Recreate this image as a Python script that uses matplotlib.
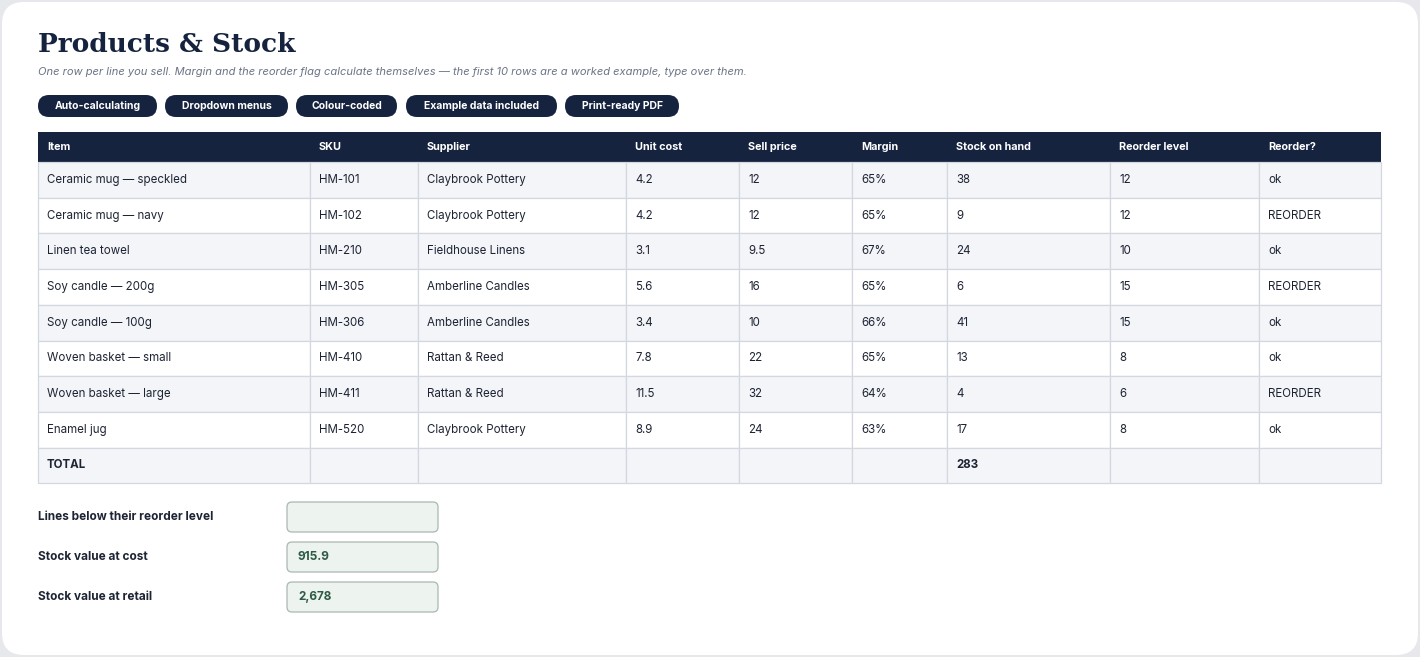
import matplotlib
matplotlib.use("Agg")
import matplotlib.pyplot as plt
from matplotlib.patches import FancyBboxPatch, Rectangle

items = ["Ceramic mug — speckled", "Ceramic mug — navy", "Linen tea towel", "Soy candle — 200g",
         "Soy candle — 100g", "Woven basket — small", "Woven basket — large", "Enamel jug"]
skus = ["HM-101", "HM-102", "HM-210", "HM-305", "HM-306", "HM-410", "HM-411", "HM-520"]
suppliers = ["Claybrook Pottery", "Claybrook Pottery", "Fieldhouse Linens", "Amberline Candles",
             "Amberline Candles", "Rattan & Reed", "Rattan & Reed", "Claybrook Pottery"]
unit_cost = [4.2, 4.2, 3.1, 5.6, 3.4, 7.8, 11.5, 8.9]
sell_price = [12, 12, 9.5, 16, 10, 22, 32, 24]
margin = ["65%", "65%", "67%", "65%", "66%", "65%", "64%", "63%"]
stock = [38, 9, 24, 6, 41, 13, 4, 17]
reorder_level = [12, 12, 10, 15, 15, 8, 6, 8]
reorder_flag = ["ok", "REORDER", "ok", "REORDER", "ok", "ok", "REORDER", "ok"]
headers = ["Item", "SKU", "Supplier", "Unit cost", "Sell price", "Margin", "Stock on hand", "Reorder level", "Reorder?"]
total_stock = 283
pills = ["Auto-calculating", "Dropdown menus", "Colour-coded", "Example data included", "Print-ready PDF"]
summary_labels = ["Lines below their reorder level", "Stock value at cost", "Stock value at retail"]
summary_values = ["", "915.9", "2,678"]

NAVY = "#15233f"
GRID = "#d3d8e0"
FONT = "Inter"

fig = plt.figure(figsize=(14.2, 6.57), dpi=100)
fig.patch.set_facecolor("#e6e8ec")
ax = fig.add_axes([0, 0, 1, 1])
ax.set_xlim(0, 1420); ax.set_ylim(657, 0); ax.axis("off")
ax.add_patch(FancyBboxPatch((2, 2), 1416, 653, boxstyle="round,pad=0,rounding_size=22",
                            fc="white", ec="none"))

ax.text(38, 44, "Products & Stock", fontsize=19, fontweight="bold", family="DejaVu Serif",
        color=NAVY, va="center")
ax.text(38, 72, "One row per line you sell. Margin and the reorder flag calculate themselves — the first 10 rows are a worked example, type over them.",
        fontsize=8, style="italic", color="#6b7385", va="center", family=FONT)

pill_x = [38, 165, 296, 406, 565]
pill_w = [119, 123, 101, 151, 114]
for px, pw, t in zip(pill_x, pill_w, pills):
    ax.add_patch(FancyBboxPatch((px, 95), pw, 22, boxstyle="round,pad=0,rounding_size=11",
                                fc=NAVY, ec="none"))
    ax.text(px + pw / 2, 106, t, fontsize=7.5, fontweight="bold", color="white",
            ha="center", va="center", family=FONT)

cols = [38, 310, 418, 626, 739, 852, 947, 1110, 1259, 1381]
top, hh, rh = 132, 30, 35.7
ax.add_patch(Rectangle((cols[0], top), cols[-1] - cols[0], hh, fc=NAVY, ec="none"))
for i, h in enumerate(headers):
    ax.text(cols[i] + 9, top + hh / 2, h, fontsize=7.8, fontweight="bold", color="white",
            va="center", family=FONT)

def fmt(v):
    return str(v)

rows = []
for i in range(len(items)):
    rows.append([items[i], skus[i], suppliers[i], fmt(unit_cost[i]), fmt(sell_price[i]),
                 margin[i], fmt(stock[i]), fmt(reorder_level[i]), reorder_flag[i]])
rows.append(["TOTAL", "", "", "", "", "", str(total_stock), "", ""])

for r, row in enumerate(rows):
    y0 = top + hh + r * rh
    fc = "#f4f5f9" if (r % 2 == 0) else "white"
    for c in range(9):
        ax.add_patch(Rectangle((cols[c], y0), cols[c + 1] - cols[c], rh, fc=fc, ec=GRID, lw=0.9))
        bold = r == len(rows) - 1
        ax.text(cols[c] + 9, y0 + rh / 2, row[c], fontsize=8.3, color="#1d2433", va="center",
                family=FONT, fontweight="bold" if bold else "normal")

for k, (lab, val) in enumerate(zip(summary_labels, summary_values)):
    yc = 517 + k * 40
    ax.text(38, yc, lab, fontsize=8.5, fontweight="bold", color="#1d2433", va="center", family=FONT)
    ax.add_patch(FancyBboxPatch((287, yc - 15), 151, 30, boxstyle="round,pad=0,rounding_size=5",
                                fc="#edf3ef", ec="#a9b8b0", lw=0.9))
    ax.text(298, yc, val, fontsize=8.5, fontweight="bold", color="#2f5a45", va="center", family=FONT)

fig.savefig("out.png", dpi=100, facecolor=fig.get_facecolor())
